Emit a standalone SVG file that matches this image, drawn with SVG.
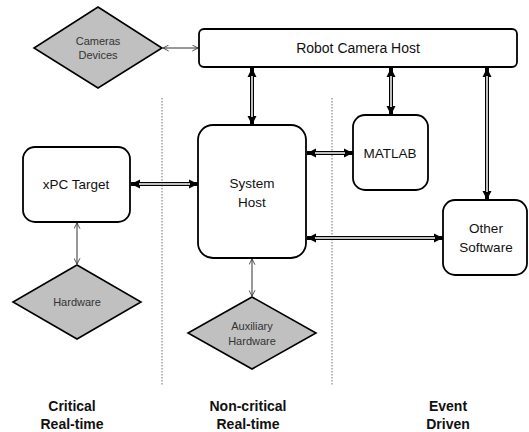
<svg xmlns="http://www.w3.org/2000/svg" width="529" height="432" viewBox="0 0 529 432">
<style>
.box{fill:#fff;stroke:#000;stroke-width:1.8}
.dia{fill:#c0c0c0;stroke:#000;stroke-width:1.6}
.t{font-family:"Liberation Sans",Arial,sans-serif;font-size:13.5px;fill:#111;text-anchor:middle}
.s{font-family:"Liberation Sans",Arial,sans-serif;font-size:11px;fill:#333;text-anchor:middle}
.b{font-family:"Liberation Sans",Arial,sans-serif;font-size:14px;font-weight:bold;fill:#111;text-anchor:middle}
.outer{stroke:#000;stroke-width:4;fill:none;marker-start:url(#dh);marker-end:url(#dh)}
.inner{stroke:#fff;stroke-width:1.5;fill:none}
.thin{stroke:#333;stroke-width:1;fill:none;marker-start:url(#th);marker-end:url(#th)}
.sep{stroke:#a0a0a0;stroke-width:1.5;stroke-dasharray:1.5 1.5;fill:none}
</style>
<defs>
<marker id="dh" viewBox="0 0 10 10" refX="10" refY="5" markerWidth="9" markerHeight="10" markerUnits="userSpaceOnUse" orient="auto-start-reverse">
<path d="M0,0 L10,5 L0,10 z" fill="#000"/>
</marker>
<marker id="th" viewBox="0 0 10 10" refX="9.5" refY="5" markerWidth="6" markerHeight="7" markerUnits="userSpaceOnUse" orient="auto-start-reverse">
<path d="M0,0 L9.5,5 L0,10" fill="none" stroke="#333" stroke-width="1.4"/>
</marker>
</defs>
<g id="separators">
<line class="sep" x1="162" y1="98" x2="162" y2="385"/>
<line class="sep" x1="332" y1="98" x2="332" y2="385"/>
</g>
<g id="connectors">
<line class="outer" x1="252" y1="68" x2="252" y2="125"/>
<line class="inner" x1="252" y1="76" x2="252" y2="117"/>
<line class="outer" x1="391" y1="68" x2="391" y2="115"/>
<line class="inner" x1="391" y1="76" x2="391" y2="107"/>
<line class="outer" x1="487" y1="68" x2="487" y2="200"/>
<line class="inner" x1="487" y1="76" x2="487" y2="192"/>
<line class="outer" x1="131" y1="184" x2="198" y2="184"/>
<line class="inner" x1="139" y1="184" x2="190" y2="184"/>
<line class="outer" x1="307" y1="153" x2="353" y2="153"/>
<line class="inner" x1="315" y1="153" x2="345" y2="153"/>
<line class="outer" x1="307" y1="238" x2="443" y2="238"/>
<line class="inner" x1="315" y1="238" x2="435" y2="238"/>
<line class="thin" x1="163" y1="48" x2="198" y2="48"/>
<line class="thin" x1="77" y1="223" x2="77" y2="264"/>
<line class="thin" x1="252" y1="259" x2="252" y2="296"/>
</g>
<g id="cameras">
<polygon class="dia" points="98,7 162,48 98,88 34,48"/>
<text class="s" x="98" y="45">Cameras</text>
<text class="s" x="98" y="59">Devices</text>
</g>
<g id="robot-camera-host">
<rect class="box" x="199" y="29" width="318" height="38" rx="5"/>
<text class="t" x="358" y="53" style="font-size:14px">Robot Camera Host</text>
</g>
<g id="system-host">
<rect class="box" x="198" y="125" width="108" height="133" rx="15"/>
<text class="t" x="252" y="188">System</text>
<text class="t" x="252" y="207">Host</text>
</g>
<g id="matlab">
<rect class="box" x="353" y="115" width="75" height="75" rx="12"/>
<text class="t" x="390" y="158">MATLAB</text>
</g>
<g id="xpc-target">
<rect class="box" x="23" y="147" width="107" height="75" rx="12"/>
<text class="t" x="76" y="189">xPC Target</text>
</g>
<g id="other-software">
<rect class="box" x="443" y="200" width="84" height="75" rx="12"/>
<text class="t" x="486" y="233">Other</text>
<text class="t" x="486" y="252">Software</text>
</g>
<g id="hardware">
<polygon class="dia" points="77,265 141,302 77,339 13,302"/>
<text class="s" x="77" y="306">Hardware</text>
</g>
<g id="auxiliary-hardware">
<polygon class="dia" points="252,297 316,333 252,369 188,333"/>
<text class="s" x="252" y="330">Auxiliary</text>
<text class="s" x="252" y="345">Hardware</text>
</g>
<g id="labels">
<text class="b" x="72" y="411">Critical</text>
<text class="b" x="72" y="429">Real-time</text>
<text class="b" x="248" y="411">Non-critical</text>
<text class="b" x="248" y="429">Real-time</text>
<text class="b" x="448" y="411">Event</text>
<text class="b" x="448" y="429">Driven</text>
</g>
</svg>
